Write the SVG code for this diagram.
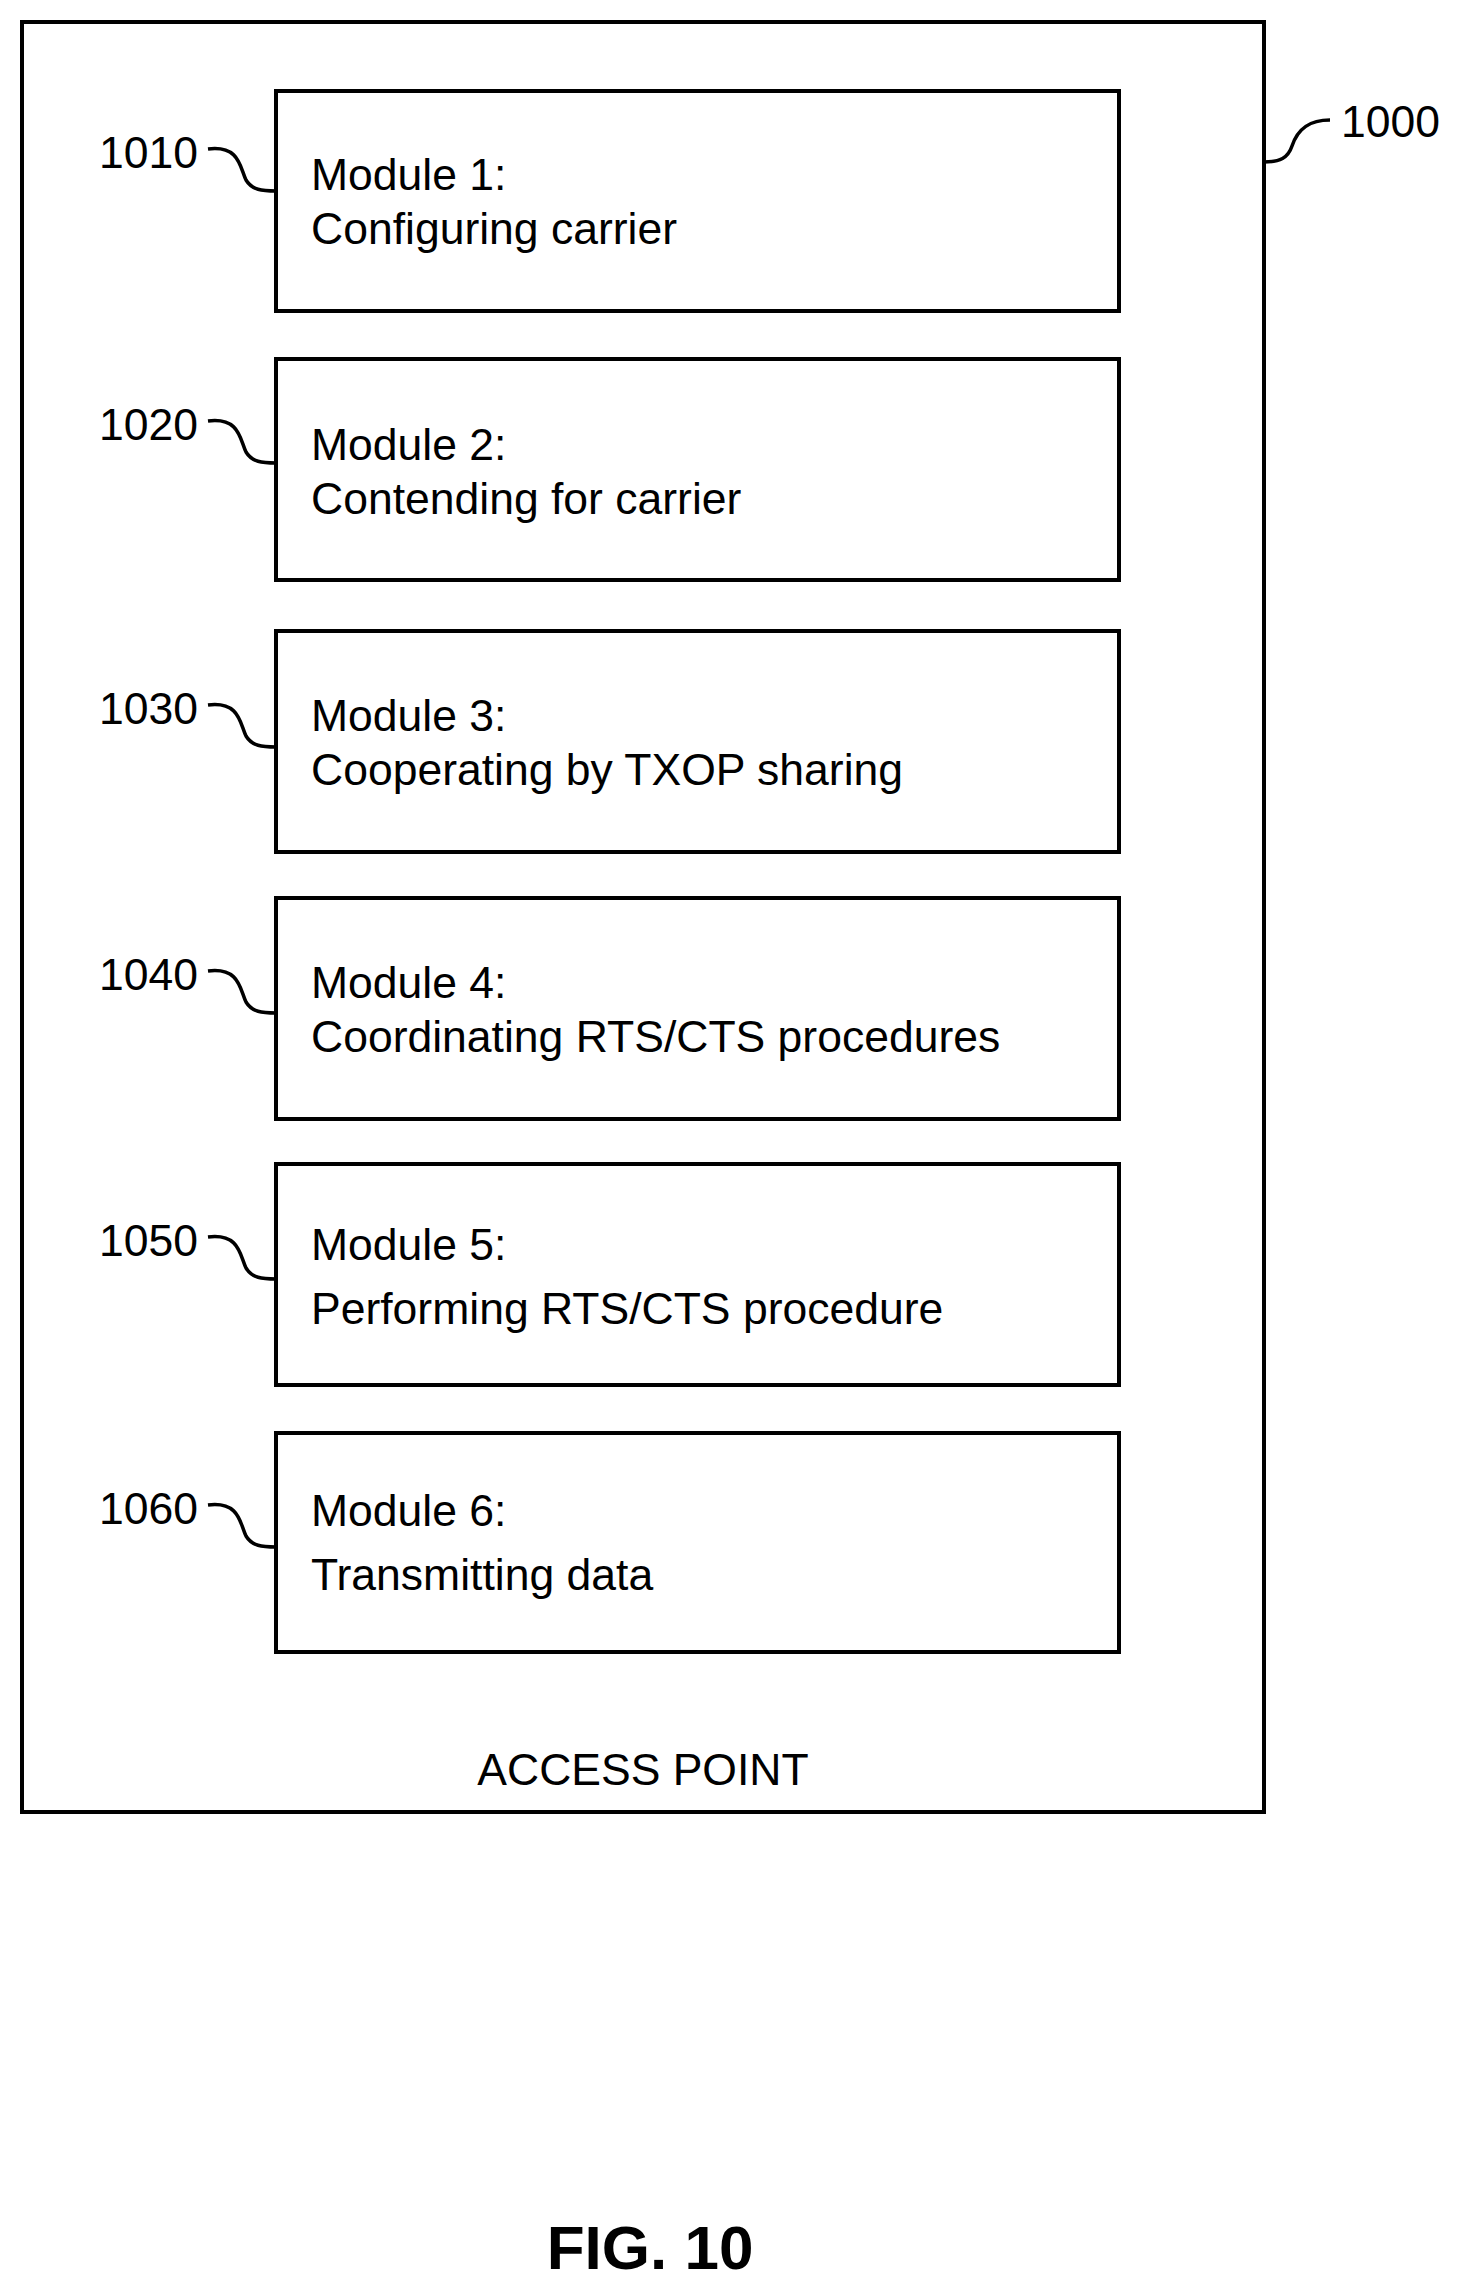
<svg xmlns="http://www.w3.org/2000/svg" width="1461" height="2295" viewBox="0 0 1461 2295">
<style>
.b{fill:none;stroke:#000;stroke-width:4}
.t{font-family:"Liberation Sans",Arial,sans-serif;font-size:44.5px;fill:#000}
.c{fill:none;stroke:#000;stroke-width:3.5}
</style>
<rect width="1461" height="2295" fill="#fff"/>
<g id="ap"><rect class="b" x="22" y="22" width="1242" height="1790"/>
<text class="t" x="643" y="1785" text-anchor="middle">ACCESS POINT</text>
<text class="t" x="1341" y="137">1000</text></g>
<g id="m1"><rect class="b" x="276" y="91" width="843" height="220"/><text class="t" x="311" y="190">Module 1:</text><text class="t" x="311" y="244">Configuring carrier</text><text class="t" x="99" y="168">1010</text></g>
<g id="m2"><rect class="b" x="276" y="359" width="843" height="221"/><text class="t" x="311" y="460">Module 2:</text><text class="t" x="311" y="514">Contending for carrier</text><text class="t" x="99" y="440">1020</text></g>
<g id="m3"><rect class="b" x="276" y="631" width="843" height="221"/><text class="t" x="311" y="731">Module 3:</text><text class="t" x="311" y="785">Cooperating by TXOP sharing</text><text class="t" x="99" y="724">1030</text></g>
<g id="m4"><rect class="b" x="276" y="898" width="843" height="221"/><text class="t" x="311" y="998">Module 4:</text><text class="t" x="311" y="1052">Coordinating RTS/CTS procedures</text><text class="t" x="99" y="990">1040</text></g>
<g id="m5"><rect class="b" x="276" y="1164" width="843" height="221"/><text class="t" x="311" y="1260">Module 5:</text><text class="t" x="311" y="1324">Performing RTS/CTS procedure</text><text class="t" x="99" y="1256">1050</text></g>
<g id="m6"><rect class="b" x="276" y="1433" width="843" height="219"/><text class="t" x="311" y="1526">Module 6:</text><text class="t" x="311" y="1590">Transmitting data</text><text class="t" x="99" y="1524">1060</text></g>
<g id="connectors">
<path class="c" d="M208 149 C240 145 240 168 246 180 C252 190 262 191 276 191"/>
<path class="c" d="M208 421 C240 417 240 440 246 452 C252 462 262 463 276 463"/>
<path class="c" d="M208 705 C240 701 240 724 246 736 C252 746 262 747 276 747"/>
<path class="c" d="M208 971 C240 967 240 990 246 1002 C252 1012 262 1013 276 1013"/>
<path class="c" d="M208 1237 C240 1233 240 1256 246 1268 C252 1278 262 1279 276 1279"/>
<path class="c" d="M208 1505 C240 1501 240 1524 246 1536 C252 1546 262 1547 276 1547"/>
<path class="c" d="M1264 162 C1280 162 1288 158 1292 146 C1298 128 1310 120 1330 120"/>
</g>
<text x="650" y="2269" text-anchor="middle" style="font-family:'Liberation Sans',Arial,sans-serif;font-size:62px;font-weight:bold">FIG. 10</text>
</svg>
